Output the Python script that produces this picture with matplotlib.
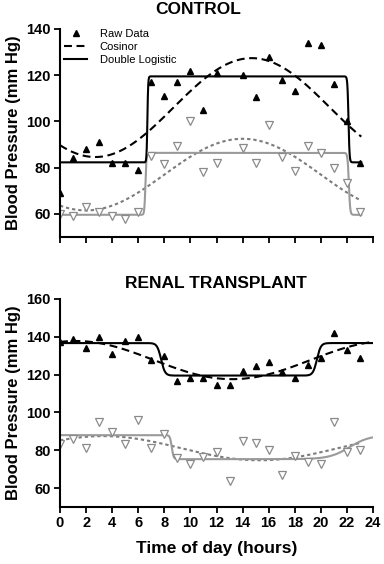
import numpy as np
import matplotlib
matplotlib.use('Agg')
import matplotlib.pyplot as plt
from matplotlib.lines import Line2D

plt.rcParams['font.family'] = ['Liberation Sans', 'DejaVu Sans']

# hourly raw means (control has no reading at hour 13)
hours_ctrl = [0, 1, 2, 3, 4, 5, 6, 7, 8, 9, 10, 11, 12, 14, 15, 16, 17, 18, 19, 20, 21, 22, 23]
sbp_ctrl = [69, 84, 88, 91, 82, 82, 79, 117, 111, 117, 122, 105, 121, 120, 110.5, 128, 118, 113, 134, 133, 116, 100, 82]
dbp_ctrl = [60, 59, 63, 61, 59, 58, 61, 85, 81.5, 89.5, 100, 78, 82, 88.5, 82, 98.5, 84.5, 78.5, 89.5, 86.5, 80, 73.5, 61]

hours_rt = list(range(24))
sbp_rt = [137, 139, 134, 140, 131, 138, 140, 128, 130, 116.5, 118, 118, 114.5, 114.5, 122, 124.5,
          126.5, 121.5, 118, 125, 129, 142, 133, 129]
dbp_rt = [83.5, 86, 81, 95, 89.5, 83.5, 96, 81, 88.5, 76, 72.5, 76.5, 79, 63.5, 85, 84, 80, 67,
          77, 74, 73, 95, 79, 80]

# cosinor fits: mesor, amplitude, acrophase (h)
cos_sbp_ctrl = (106.0, 21.4, 14.7)
cos_dbp_ctrl = (77.0, 15.5, 14.0)
cos_sbp_rt = (127.7, 10.1, 1.2)
cos_dbp_rt = (81.1, 6.4, 3.3)

# double logistic fits: start level, step, onset, width, offset, width
dl_sbp_ctrl = (82.3, 37.2, 6.7, 0.03, 22.12, 0.04)
dl_dbp_ctrl = (59.6, 26.8, 6.55, 0.04, 22.15, 0.05)
dl_sbp_rt = (136.7, -17.2, 7.75, 0.15, 19.7, 0.15)
dl_dbp_rt = (88.0, -12.7, 8.57, 0.07, 22.2, 0.78)


def cosinor(t, p):
    mesor, amp, phi = p
    return mesor + amp * np.cos(2 * np.pi * (t - phi) / 24)


def rise(t, c, w):
    return 1 / (1 + np.exp(np.clip(-(t - c) / w, -60, 60)))


def double_logistic(t, p):
    y0, dy, c1, w1, c2, w2 = p
    return y0 + dy * (rise(t, c1, w1) - rise(t, c2, w2))


BLACK = 'black'
GREY = '#9a9a9a'
GREY_DOT = '#7c7c7c'
EDGE = '#8a8a8a'


def draw_panel(ax, hours, sbp, dbp, cs, cd, ds, dd, t_end, t_end_dot):
    t = np.linspace(0, t_end, 800)
    td = np.linspace(0, t_end_dot, 800)
    ax.plot(td, cosinor(td, cd), color=GREY_DOT, lw=1.5, ls=(0, (1.6, 1.4)))
    ax.plot(t, double_logistic(t, dd), color=GREY, lw=1.5)
    ax.plot(t, cosinor(t, cs), color=BLACK, lw=1.5, ls=(0, (3.8, 2.2)))
    ax.plot(t, double_logistic(t, ds), color=BLACK, lw=1.5)
    ax.plot(hours, sbp, '^', color=BLACK, ms=5, ls='none')
    ax.plot(hours, dbp, 'v', mfc='white', mec=EDGE, mew=0.9, ms=5.8, ls='none')

    ax.set_xlim(0, 24)
    ax.set_xticks(range(0, 25, 2))
    for s in ['top', 'right']:
        ax.spines[s].set_visible(False)
    for s in ['left', 'bottom']:
        ax.spines[s].set_linewidth(1.5)
    ax.tick_params(direction='out', length=4.5, width=1.3, labelsize=10.5, pad=2)
    for lab in ax.get_xticklabels() + ax.get_yticklabels():
        lab.set_fontweight('bold')
    ax.set_ylabel('Blood Pressure (mm Hg)', fontsize=12, fontweight='bold')
    ax.yaxis.set_label_coords(-0.125, 0.5)


fig = plt.figure(figsize=(3.84, 5.64), dpi=100)
ax1 = fig.add_axes([60 / 384, 1 - 237 / 564, 313 / 384, 208 / 564])
ax2 = fig.add_axes([60 / 384, 1 - 507 / 564, 313 / 384, 208 / 564])

ax1.set_ylim(50, 140)
ax1.set_yticks([60, 80, 100, 120, 140])
draw_panel(ax1, hours_ctrl, sbp_ctrl, dbp_ctrl, cos_sbp_ctrl, cos_dbp_ctrl,
           dl_sbp_ctrl, dl_dbp_ctrl, 23.1, 23.0)
ax1.tick_params(labelbottom=False)

ax2.set_ylim(50, 160)
ax2.set_yticks([60, 80, 100, 120, 140, 160])
draw_panel(ax2, hours_rt, sbp_rt, dbp_rt, cos_sbp_rt, cos_dbp_rt,
           dl_sbp_rt, dl_dbp_rt, 24.0, 23.0)
ax2.set_xlabel('Time of day (hours)', fontsize=12.5, fontweight='bold')
ax2.xaxis.set_label_coords(0.5, -0.165)

handles = [Line2D([], [], marker='^', color=BLACK, ms=5, ls='none'),
           Line2D([], [], color=BLACK, lw=1.5, ls=(0, (3.8, 2.2))),
           Line2D([], [], color=BLACK, lw=1.5)]
ax1.legend(handles, ['Raw Data', 'Cosinor', 'Double Logistic'], loc='upper left',
           bbox_to_anchor=(0.013, 1.0), frameon=False, fontsize=8, borderpad=0,
           borderaxespad=0, handlelength=2.1, handletextpad=1.1, labelspacing=0.25)

fig.text(198 / 384, 1 - 10 / 564, 'CONTROL', ha='center', va='center',
         fontsize=12.5, fontweight='bold')
fig.text(215.5 / 384, 1 - 283 / 564, 'RENAL TRANSPLANT', ha='center', va='center',
         fontsize=12.5, fontweight='bold')

fig.savefig('out.png', dpi=100)
